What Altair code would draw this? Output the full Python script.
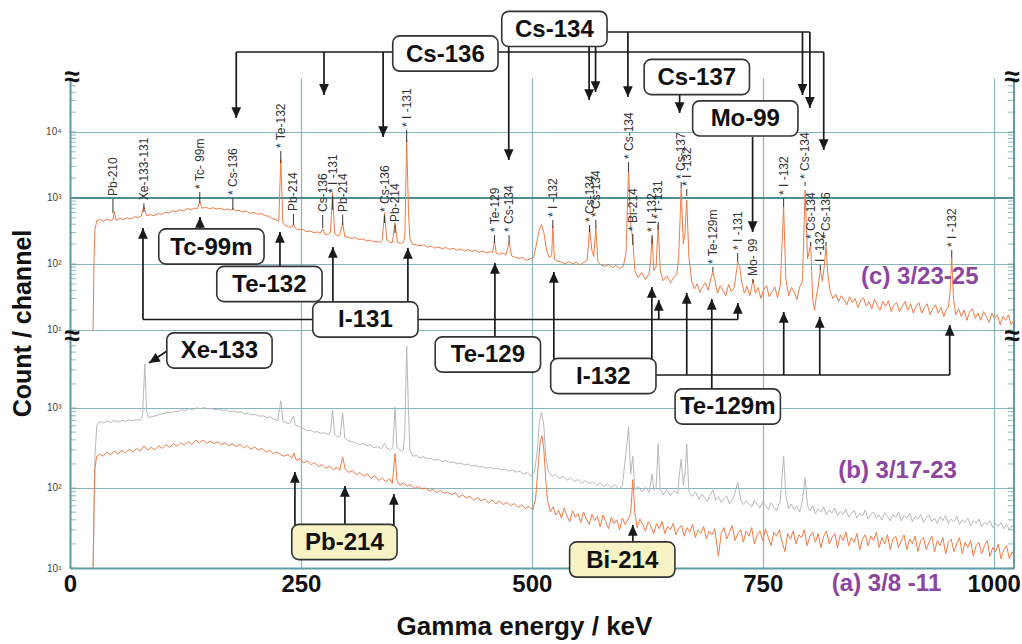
import altair as alt
import numpy as np
import pandas as pd

# ---------------- spectra: (energy keV, counts/channel) ----------------
spec_c = [(25,10),(26,120),(27,330),(29,455),(32,470),(36,445),(40,480),(44,455),(46.5,470),(48,620),(50,460),
(54,490),(58,470),(62,500),(66,480),(70,520),(74,505),(77,530),(80,740),(83,540),(87,560),(91,540),(95,580),
(99,565),(103,610),(107,590),(111,640),(115,620),(119,665),(123,640),(127,690),(131,670),(135,700),(138,690),
(140.5,880),(143,700),(147,720),(151,690),(155,710),(159,680),(163,700),(167,660),(171,680),(174,650),(176.3,700),
(179,640),(183,650),(187,610),(191,630),(195,590),(199,600),(203,570),(207,580),(211,540),(215,530),(219,490),
(223,470),(226,440),(228.2,3800),(230.5,420),(233,380),(236,370),(239,355),(241.9,400),(244,345),(248,330),
(252,335),(256,310),(260,315),(264,300),(268,305),(271,290),(273.6,340),(276,280),(280,285),(282,300),(284.3,1200),
(286.5,290),(289,270),(292,275),(295.2,420),(297.5,260),(301,255),(305,245),(309,250),(313,235),(317,240),(321,225),
(325,230),(329,215),(333,220),(336,212),(338,230),(340.5,600),(343,230),(346,215),(349,210),(351.9,420),(354.5,215),
(358,205),(361,215),(362.5,260),(364.5,7600),(366.5,600),(368,240),(371,200),(375,195),(379,188),(383,196),(387,180),
(391,186),(395,174),(399,181),(403,170),(407,178),(411,166),(415,173),(419,162),(423,169),(427,158),(431,166),
(435,155),(439,161),(443,150),(447,157),(451,146),(455,153),(457.5,150),(459.6,225),(461.5,146),(465,140),(469,147),
(472,136),(475.4,215),(478,133),(482,126),(486,121),(490,126),(494,114),(498,119),(502,125),(505,200),(508,330),
(510.5,395),(513,300),(516,160),(519,125),(521.5,135),(522.7,370),(524.5,118),(528,110),(532,107),(536,101),
(540,109),(544,100),(548,107),(552,97),(556,105),(560,115),(562.5,350),(565,160),(567,130),(569.3,360),(571.5,108),
(575,96),(579,92),(583,98),(587,88),(591,95),(595,85),(599,92),(602,150),(604.7,2850),(607,400),(609.3,230),
(611.5,80),(615,62),(619,74),(623,58),(627,72),(628.5,110),(630.2,255),(632,80),(634.5,90),(636.8,390),(639,80),
(642,56),(646,66),(650,52),(654,63),(657,70),(659,130),(661.7,1400),(664,200),(665.8,300),(667.7,930),(670,130),
(673,55),(676,42),(679,50),(682,37),(685,46),(688,52),(691,40),(694,62),(696,75),(698,58),(701,36),(704,47),
(707,40),(710,33),(713,49),(716,38),(719,44),(722.9,105),(725,95),(727,55),(730,36),(733,46),(736,33),(739.5,58),
(742,36),(745,44),(748,30),(751,41),(754,47),(757,32),(760,38),(763,45),(766,31),(769,48),(772.6,730),(775,60),
(778,33),(781,44),(784,38),(787,29),(790,45),(793,55),(795.8,1320),(798.5,120),(801.9,200),(804,30),(806,20),
(808,32),(810,45),(812.3,82),(814.5,55),(816.5,90),(818.5,185),(820.5,70),
(823,38),(826,30),(829,35),(832,27),(835,33),(838,29),(841,24),(844,32),(847,26),(850,30),(853,22),(856,28),
(859,31),(862,23),(865,27),(868,21),(871,29),(874,24),(877,20),(880,27),(883,23),(886,28),(889,19),(892,24),
(895,26),(898,19),(901,23),(904,27),(907,20),(910,25),(913,18),(916,23),(919,26),(922,18),(925,22),(928,25),
(931,17),(934,21),(937,24),(940,18),(943,22),(946,16),(949,21),(951,22),(953,40),(954.6,123),(956.5,30),(959,17),
(962,21),(965,16),(968,20),(971,14),(974,19),(977,21),(980,15),(983,18),(986,14),(989,19),(992,16),(995,13),
(998,18),(1001,15),(1004,17),(1007,12),(1010,16),(1013,14),(1016,17),(1019,12),(1022,14)]

spec_b = [(25,10),(26,40),(27,250),(29,600),(32,680),(36,650),(40,690),(44,660),(48,700),(52,670),(56,700),(60,680),
(64,710),(68,690),(72,720),(76,700),(78.5,800),(81,3550),(83,900),(85,760),(89,780),(93,800),(97,830),(101,850),
(105,880),(109,870),(113,910),(117,900),(121,950),(125,930),(129,980),(133,960),(137,1000),(141,980),(145,1010),
(149,970),(153,990),(157,950),(161,970),(165,930),(169,950),(173,900),(177,920),(181,880),(185,900),(189,850),
(193,860),(197,820),(201,830),(205,790),(209,800),(213,760),(217,770),(221,720),(225,700),(228.2,1230),(230.5,690),
(234,650),(238,640),(241.9,800),(244,610),(248,590),(252,560),(256,520),(260,530),(264,500),(268,505),(272,480),
(276,490),(280,460),(282,500),(284.3,950),(286.5,470),(290,430),(292.5,450),(295.2,860),(297.5,420),(301,390),
(305,380),(309,370),(313,350),(317,360),(321,340),(325,345),(329,320),(333,330),(337,310),(340.5,360),(343,315),
(347,300),(349.5,320),(351.9,1020),(354,320),(358,290),(361,300),(362.5,500),(364.5,5900),(366.5,900),(368,300),
(371,250),(375,255),(379,240),(383,245),(387,230),(391,235),(395,222),(399,228),(403,215),(407,220),(411,208),
(415,212),(419,200),(423,206),(427,195),(431,199),(435,188),(439,192),(443,182),(447,186),(451,176),(455,182),
(459,172),(463,178),(467,168),(471,172),(475,163),(479,168),(483,158),(487,162),(491,150),(495,156),(499,140),
(503,160),(506,300),(508,650),(510.5,890),(513,600),(515,250),(518,160),(522,140),(526,148),(530,132),(534,140),
(538,125),(542,133),(546,120),(550,128),(554,114),(558,124),(562,113),(566,120),(570,107),(574,116),(578,105),
(582,112),(586,101),(590,110),(594,97),(598,106),(602,280),(604.7,580),(607,150),(609.3,250),(611.5,95),(615,105),
(619,90),(623,102),(627,88),(630.2,150),(632,95),(634.5,100),(636.8,355),(639,95),(642,82),(646,95),(650,80),
(654,92),(658,85),(659.5,140),(661.7,230),(664,110),(665.8,150),(667.7,355),(670,90),
(674,78),(677,90),(681,72),(684,84),(687,76),(690,68),(693,82),(696,95),(699,70),(702,78),(705,66),(708,74),
(711,80),(714,64),(717,72),(719,80),(722.9,118),(726,72),(729,62),(732,70),(735,64),(738,58),(741,70),(744,62),
(747,56),(750,68),(753,60),(756,54),(759,65),(762,58),(765,52),(769,70),(772.6,250),(775,80),(778,55),(781,63),
(784,54),(787,60),(790,50),(793,70),(795.8,135),(798.5,60),(801,52),(804,60),(807,48),(810,55),(813,50),(816,58),
(819,46),(822,53),(825,49),(828,56),(831,45),(834,51),(837,47),(840,54),(843,43),(846,49),(849,52),(852,42),
(855,48),(858,45),(861,53),(864,41),(867,47),(870,50),(873,42),(876,46),(879,40),(882,49),(885,44),(888,39),
(891,47),(894,43),(897,50),(900,39),(903,45),(906,42),(909,48),(912,38),(915,44),(918,41),(921,47),(924,37),
(927,43),(930,46),(933,38),(936,42),(939,36),(942,44),(945,39),(948,45),(951,36),(954,41),(957,38),(960,44),
(963,35),(966,40),(969,37),(972,42),(975,34),(978,39),(981,36),(984,41),(987,33),(990,37),(993,35),(996,39),
(999,32),(1002,36),(1005,33),(1008,37),(1011,31),(1014,35),(1017,30),(1020,34),(1022,32)]

spec_a = [(25,10),(26,60),(27,180),(29,250),(32,265),(36,250),(40,280),(44,258),(48,290),(52,265),(56,295),(60,275),
(64,305),(68,282),(72,312),(76,290),(80,335),(84,298),(88,322),(92,300),(96,338),(100,312),(104,348),(108,322),
(112,358),(116,332),(120,368),(124,345),(128,380),(132,352),(136,395),(140,368),(144,398),(148,362),(152,388),
(156,358),(160,378),(164,348),(168,368),(172,338),(176,356),(180,328),(184,352),(188,318),(192,336),(196,306),
(200,326),(204,296),(208,312),(212,282),(216,296),(220,268),(224,282),(228,262),(232,250),(236,262),(240,236),
(242.5,272),(245,222),(249,232),(253,206),(257,218),(261,196),(265,208),(269,186),(273,196),(277,176),(281,188),
(285,170),(289,182),(292,166),(295.2,245),(298,172),(302,156),(306,166),(310,146),(314,156),(318,140),(322,150),
(326,132),(330,142),(334,124),(338,134),(342,120),(346,130),(349,114),(351.9,270),(354,124),
(357,108),(361,116),(365,106),(369,110),(373,99),(377,104),(381,97),(385,100),(389,92),(393,96),(397,88),(401,94),
(405,86),(409,89),(413,82),(417,87),(421,77),(425,82),(429,75),(433,79),(437,70),(441,76),(445,69),(449,73),
(453,65),(457,71),(461,63),(465,69),(469,62),(473,66),(477,60),(481,64),(485,57),(489,62),(493,55),(497,59),
(501,53),(504,72),(507,200),(509,380),(511,450),(513,300),(515,130),(517,70),
(520,50),(523,58),(526,46),(529,53),(532,42),(535,56),(538,45),(541,38),(544,52),(547,43),(550,48),(553,37),
(556,50),(559,41),(562,35),(565,47),(568,39),(571,44),(574,33),(577,46),(580,38),(583,31),(586,43),(589,36),
(592,40),(595,30),(598,42),(601,35),(604,40),(607,48),(609.3,127),(611.5,50),
(614,32),(617,41),(620,35),(623,29),(626,38),(629,33),(632,27),(635,36),(638,31),(641,38),(644,27),(647,33),
(650,30),(653,36),(656,26),(659,31),(662,34),(665,25),(668,32),(671,28),(674,35),(677,24),(680,30),(683,27),
(686,33),(689,23),(692,29),(695,26),(698,31),(702,14),(705,27),(708,32),(711,23),(714,28),(717,34),(720,22),
(723,27),(726,30),(729,21),(732,29),(735,25),(738,32),(741,20),(744,26),(747,29),(750,22),(753,31),(756,24),
(759,19),(762,28),(765,25),(768,30),(771,21),(774,16),(777,27),(780,23),(783,29),(786,20),(789,26),(792,24),
(795,30),(798,19),(801,25),(804,28),(807,21),(810,27),(813,18),(816,25),(819,29),(822,20),(825,24),(828,27),
(831,18),(834,26),(837,22),(840,28),(843,19),(846,24),(849,21),(852,27),(855,17),(858,23),(861,26),(864,19),
(867,25),(870,22),(873,28),(876,18),(879,24),(882,20),(885,26),(888,17),(891,23),(894,25),(897,18),(900,22),
(903,26),(906,17),(909,23),(912,20),(915,25),(918,16),(921,22),(924,24),(927,17),(930,21),(933,25),(936,16),
(939,22),(942,19),(945,24),(948,15),(951,21),(954,23),(957,16),(960,20),(963,24),(966,15),(969,21),(972,18),
(975,22),(978,14),(981,19),(984,21),(987,15),(990,19),(993,22),(996,14),(999,18),(1002,16),(1005,20),(1008,13),
(1011,17),(1014,19),(1017,13),(1020,16),(1022,14)]

# ---------------- axes / panels ----------------
x_ticks = [0, 250, 500, 750, 1000]
E_MAX = 1022
lower_decades = [1, 2, 3]          # log10 counts, panels (a)/(b)
upper_decades = [1, 2, 3, 4]       # log10 counts, panel (c)
decade_text = {1: "10¹", 2: "10²", 3: "10³", 4: "10⁴"}
LOWER_TOP_LG = 3.8625
UPPER_TOP_LG = 4.818

# ---------------- annotations (energy keV, log10 counts, panel) ----------------
boxes = [("Cs-134", 524.4, 5.561, "c", "white"), ("Cs-136", 406.4, 5.189, "c", "white"),
         ("Cs-137", 678.6, 4.833, "c", "white"), ("Mo-99", 731.1, 4.205, "c", "white"),
         ("Tc-99m", 153.1, 2.265, "c", "white"), ("Te-132", 215.9, 1.697, "c", "white"),
         ("I-131", 319.8, 1.159, "c", "white"), ("Xe-133", 161.8, 3.719, "ab", "white"),
         ("Te-129", 452.4, 3.669, "ab", "white"), ("I-132", 577.4, 3.40, "ab", "white"),
         ("Te-129m", 712.1, 3.019, "ab", "white"), ("Pb-214", 297.1, 1.325, "ab", "#f7f3c4"),
         ("Bi-214", 597.9, 1.106, "ab", "#f7f3c4")]

segments = [
    (180, 5.212, "c", 816, 5.212, "c"), (180, 5.212, "c", 180, 4.212, "c"), (275, 5.212, "c", 275, 4.561, "c"),
    (339, 5.212, "c", 339, 3.924, "c"), (816, 5.212, "c", 816, 3.727, "c"),
    (524, 5.515, "c", 801, 5.515, "c"), (793, 5.515, "c", 793, 4.561, "c"), (801, 5.515, "c", 801, 4.364, "c"),
    (604, 5.515, "c", 604, 4.530, "c"), (562, 5.303, "c", 562, 4.485, "c"), (569, 5.303, "c", 569, 4.606, "c"),
    (475, 5.303, "c", 475, 3.576, "c"),
    (660, 4.561, "c", 660, 4.288, "c"), (739, 3.924, "c", 739, 2.485, "c"),
    (140.7, 2.53, "c", 140.7, 2.712, "c"), (227.3, 1.97, "c", 227.3, 2.485, "c"),
    (284.6, 1.424, "c", 284.6, 2.258, "c"), (365.8, 1.424, "c", 365.8, 2.242, "c"),
    (79, 1.159, "c", 723, 1.159, "c"), (79, 1.159, "c", 79, 2.545, "c"),
    (637.4, 1.159, "c", 637.4, 1.455, "c"), (723, 1.159, "c", 723, 1.409, "c"),
    (460, 3.9, "ab", 460, 2.015, "c"),
    (523.8, 3.6125, "ab", 523.8, 1.879, "c"), (629.9, 3.6125, "ab", 629.9, 1.652, "c"),
    (577, 3.4125, "ab", 952.4, 3.4125, "ab"), (667.7, 3.4125, "ab", 667.7, 1.561, "c"),
    (772.7, 3.4125, "ab", 772.7, 1.273, "c"), (811.7, 3.4125, "ab", 811.7, 1.197, "c"),
    (952.4, 3.4125, "ab", 952.4, 1.076, "c"),
    (694.8, 3.2375, "ab", 694.8, 1.47, "c"),
    (243.5, 1.5375, "ab", 243.5, 2.2, "ab"), (297.6, 1.5375, "ab", 297.6, 2.025, "ab"),
    (350.6, 1.5375, "ab", 350.6, 1.925, "ab"), (609.3, 1.325, "ab", 609.3, 1.5375, "ab"),
    (105, 3.7125, "ab", 85.5, 3.5625, "ab")]

arrow_heads = [
    (180, 4.212, "c", "down"), (275, 4.561, "c", "down"), (339, 3.924, "c", "down"), (816, 3.727, "c", "down"),
    (793, 4.561, "c", "down"), (801, 4.364, "c", "down"), (604, 4.530, "c", "down"), (562, 4.485, "c", "down"),
    (569, 4.606, "c", "down"), (475, 3.576, "c", "down"), (660, 4.288, "c", "down"), (739, 2.485, "c", "down"),
    (140.7, 2.712, "c", "up"), (227.3, 2.485, "c", "up"), (284.6, 2.258, "c", "up"), (365.8, 2.242, "c", "up"),
    (79, 2.545, "c", "up"), (637.4, 1.455, "c", "up"), (723, 1.409, "c", "up"), (460, 2.015, "c", "up"),
    (523.8, 1.879, "c", "up"), (629.9, 1.652, "c", "up"), (667.7, 1.561, "c", "up"), (772.7, 1.273, "c", "up"),
    (811.7, 1.197, "c", "up"), (952.4, 1.076, "c", "up"), (694.8, 1.47, "c", "up"),
    (243.5, 2.2, "ab", "up"), (297.6, 2.025, "ab", "up"), (350.6, 1.925, "ab", "up"), (609.3, 1.5375, "ab", "up"),
    (85.5, 3.5625, "ab", "diag")]

peak_labels = [
    ("Pb-210", 46.5, 2.773, 2.985), ("Xe-133-131", 80, 2.79, 2.92), ("* Tc- 99m", 140.5, 2.924, 3.091),
    ("* Cs-136", 176.3, 2.818, 3.0), ("* Te-132", 228.2, 3.53, 3.712), ("Pb-214", 241.9, 2.591, 2.758),
    ("Cs-136", 273.6, 2.545, 2.742), ("* I -131", 284.3, 2.818, 3.03), ("Pb-214", 295.2, 2.591, 2.742),
    ("* Cs-136", 340.5, 2.621, 2.742), ("Pb-214", 351.9, 2.47, 2.591), ("* I -131", 364.5, 3.848, 4.03),
    ("* Te-129", 459.6, 2.318, 2.439), ("* Cs-134", 475.4, 2.318, 2.439), ("* I -132", 522.7, 2.545, 2.667),
    ("* Cs-134", 562.5, 2.485, 2.591), ("* Cs-134", 569.3, 2.545, 2.667), ("* Cs-134", 604.7, 3.394, 3.545),
    ("* Bi-214", 609.3, 2.288, 2.455), ("* I -132", 630.2, 2.303, 2.439), ("* I -131", 636.8, 2.515, 2.636),
    ("* Cs-137", 661.7, 3.152, 3.242), ("* I -132", 667.7, 3.03, 3.136), ("* Te-129m", 696, 1.879, 1.955),
    ("* I -131", 722.9, 2.03, 2.167), ("Mo- 99", 739.5, 1.712, 1.773), ("* I -132", 772.6, 2.864, 3.0),
    ("* Cs-134", 795.8, 3.182, 3.242), ("* Cs-134", 801.9, 2.273, 2.333), ("I -132", 812.3, 1.909, 1.985),
    ("* Cs-136", 818.5, 2.273, 2.333), ("* I -132", 954.6, 2.091, 2.212)]

panel_labels = [("(c) 3/23-25", 920, 1.803, "c"), ("(b) 3/17-23", 896, 2.2125, "ab"),
                ("(a) 3/8 -11", 884, 0.80, "ab")]

breaks_left = [(0, UPPER_TOP_LG, "c"), (0, 3.8875, "ab")]
breaks_right = [(E_MAX, UPPER_TOP_LG, "c"), (E_MAX, 3.8875, "ab")]

# ---------------- styles ----------------
ORANGE = "#f07a45"
GREY = "#b8b8b8"
TEAL = "#5e9ea5"
GRIDC = "#86b6bb"
DARKGRID = "#4e8d94"
INK = "#1a1a1a"
PURPLE = "#8c45a0"
FONT = "Liberation Sans"

# broken axis: lower panel one unit per decade; upper panel starts at U_BASE with shorter decades
U_BASE = 2.975
U_SCALE = 0.825


def to_pos(lg, panel):
    lg = np.asarray(lg, dtype=float)
    panel = np.asarray(panel)
    return np.where(panel == "c", U_BASE + (lg - 1) * U_SCALE, lg - 1)


Y_TOP = float(to_pos(UPPER_TOP_LG, "c"))
BOX_HALF_W = 57      # keV
BOX_HALF_H = 0.22    # position units


def spectrum(pairs, panel):
    df = pd.DataFrame(pairs, columns=["E", "count"])
    df["pos"] = to_pos(np.log10(df["count"]), panel)
    return df


df_a = spectrum(spec_a, "ab")
df_b = spectrum(spec_b, "ab")
df_c = spectrum(spec_c, "c")

xs = alt.Scale(domain=[0, E_MAX], nice=False, zero=False)
ys = alt.Scale(domain=[0, Y_TOP], nice=False, zero=False)

ylab_pos = [float(v) for v in to_pos(lower_decades, "ab")] + [float(v) for v in to_pos(upper_decades, "c")]
ylab_txt = [decade_text[d] for d in lower_decades] + [decade_text[d] for d in upper_decades]
expr = "''"
for p, t in reversed(list(zip(ylab_pos, ylab_txt))):
    expr = f"abs(datum.value - {p:.4f}) < 0.01 ? '{t}' : {expr}"

xaxis = alt.Axis(values=x_ticks, format="d", title="Gamma energy / keV", titleFont=FONT, titleFontSize=26,
                 titleFontWeight="bold", titleColor="#111", titlePadding=17, titleX=454, labelFont=FONT,
                 labelFontSize=24, labelFontWeight="bold", labelColor="#111", labelPadding=4,
                 labelFlush=False, ticks=False, domainColor=TEAL, domainWidth=2, grid=True,
                 gridColor=GRIDC, gridWidth=1.2)
yaxis = alt.Axis(values=ylab_pos, labelExpr=expr, title="Count / channel", titleFont=FONT,
                 titleFontSize=25, titleFontWeight="bold", titleColor="#111", titlePadding=10,
                 labelFont=FONT, labelFontSize=10, labelColor="#444", labelPadding=9, labelOverlap=False,
                 ticks=False, domainColor=TEAL, domainWidth=2, grid=True, gridColor=GRIDC, gridWidth=1.2)


def X(f):
    return alt.X(f, scale=xs, axis=xaxis)


def Y(f):
    return alt.Y(f, scale=ys, axis=yaxis)


layers = []
layers.append(alt.Chart(df_b).mark_line(color=GREY, strokeWidth=1).encode(x=X("E:Q"), y=Y("pos:Q")))

thick = pd.DataFrame({"pos": to_pos([3], "c"), "E0": [0], "E1": [E_MAX]})
layers.append(alt.Chart(thick).mark_rule(color=DARKGRID, strokeWidth=2).encode(x=X("E0:Q"), x2="E1:Q", y=Y("pos:Q")))
right = pd.DataFrame({"E": [E_MAX], "p0": [0.0], "p1": [Y_TOP]})
layers.append(alt.Chart(right).mark_rule(color=TEAL, strokeWidth=2).encode(x=X("E:Q"), y=Y("p0:Q"), y2="p1:Q"))

tick_rows = []
for panel, decs, top in [("ab", lower_decades, LOWER_TOP_LG), ("c", upper_decades, UPPER_TOP_LG)]:
    for d in decs:
        for k in range(1, 10):
            lg = d + np.log10(k)
            if lg <= top:
                tick_rows.append((lg, panel))
tick_df = pd.DataFrame(tick_rows, columns=["lg", "panel"])
tick_df["pos"] = to_pos(tick_df["lg"], tick_df["panel"])
tl = tick_df.assign(E=0)
tr = tick_df.assign(E=E_MAX)
layers.append(alt.Chart(tl).mark_tick(orient="horizontal", size=5, thickness=1, color=TEAL, xOffset=3.5)
              .encode(x=X("E:Q"), y=Y("pos:Q")))
layers.append(alt.Chart(tr).mark_tick(orient="horizontal", size=5, thickness=1, color=TEAL, xOffset=-3.5)
              .encode(x=X("E:Q"), y=Y("pos:Q")))

layers.append(alt.Chart(df_a).mark_line(color=ORANGE, strokeWidth=1).encode(x=X("E:Q"), y=Y("pos:Q")))
layers.append(alt.Chart(df_c).mark_line(color=ORANGE, strokeWidth=1).encode(x=X("E:Q"), y=Y("pos:Q")))

pl = pd.DataFrame(peak_labels, columns=["label", "E", "lg0", "lg1"])
pl["y0"] = to_pos(pl["lg0"], "c")
pl["y1"] = to_pos(pl["lg1"], "c")
layers.append(alt.Chart(pl).mark_rule(color="#333", strokeWidth=1).encode(x=X("E:Q"), y=Y("y0:Q"), y2="y1:Q"))
layers.append(alt.Chart(pl).mark_text(angle=270, align="left", baseline="middle", dx=3, font=FONT,
                                      fontSize=12, color="#333").encode(x=X("E:Q"), y=Y("y1:Q"), text="label:N"))

sg = pd.DataFrame(segments, columns=["E1", "lg1", "p1", "E2", "lg2", "p2"])
sg["y1"] = to_pos(sg["lg1"], sg["p1"])
sg["y2"] = to_pos(sg["lg2"], sg["p2"])
layers.append(alt.Chart(sg).mark_rule(color=INK, strokeWidth=1.7).encode(
    x=X("E1:Q"), x2="E2:Q", y=Y("y1:Q"), y2="y2:Q"))

ah = pd.DataFrame(arrow_heads, columns=["E", "lg", "panel", "kind"])
ah["pos"] = to_pos(ah["lg"], ah["panel"])
UP = "M0,0L-0.45,1L0.45,1Z"
DOWN = "M0,0L-0.45,-1L0.45,-1Z"
for kind, shape, ang in [("up", UP, 0), ("down", DOWN, 0), ("diag", UP, 238)]:
    layers.append(alt.Chart(ah[ah["kind"] == kind]).mark_point(
        shape=shape, filled=True, size=470, opacity=1, color=INK, angle=ang, strokeWidth=0)
        .encode(x=X("E:Q"), y=Y("pos:Q")))

bx = pd.DataFrame(boxes, columns=["label", "E", "lg", "panel", "fill"])
bx["pos"] = to_pos(bx["lg"], bx["panel"])
bx["x0"] = bx["E"] - BOX_HALF_W
bx["x1"] = bx["E"] + BOX_HALF_W
bx["y0"] = bx["pos"] - BOX_HALF_H
bx["y1"] = bx["pos"] + BOX_HALF_H
layers.append(alt.Chart(bx).mark_rect(cornerRadius=7, stroke="#333", strokeWidth=1.6).encode(
    x=X("x0:Q"), x2="x1:Q", y=Y("y0:Q"), y2="y1:Q", fill=alt.Fill("fill:N", scale=None)))
layers.append(alt.Chart(bx).mark_text(font=FONT, fontSize=24, fontWeight="bold", color="#111",
                                      baseline="middle", dy=1).encode(x=X("E:Q"), y=Y("pos:Q"), text="label:N"))

pn = pd.DataFrame(panel_labels, columns=["label", "E", "lg", "panel"])
pn["pos"] = to_pos(pn["lg"], pn["panel"])
layers.append(alt.Chart(pn).mark_text(font=FONT, fontSize=24, fontWeight="bold", color=PURPLE,
                                      baseline="middle").encode(x=X("E:Q"), y=Y("pos:Q"), text="label:N"))

for rows, shift in [(breaks_left, 2), (breaks_right, -2)]:
    br = pd.DataFrame(rows, columns=["E", "lg", "panel"])
    br["pos"] = to_pos(br["lg"], br["panel"])
    layers.append(alt.Chart(br).mark_text(text="≈", font=FONT, fontSize=28, fontWeight="bold", color="#111",
                                          baseline="middle", dx=shift).encode(x=X("E:Q"), y=Y("pos:Q")))

chart = alt.layer(*layers).properties(
    width=944, height=490,
    autosize=alt.AutoSizeParams(type="none"),
    padding={"left": 70, "top": 78, "right": 8, "bottom": 76},
).configure_view(stroke=None)

chart.save("out.html", embed_options={"renderer": "svg", "actions": False})
